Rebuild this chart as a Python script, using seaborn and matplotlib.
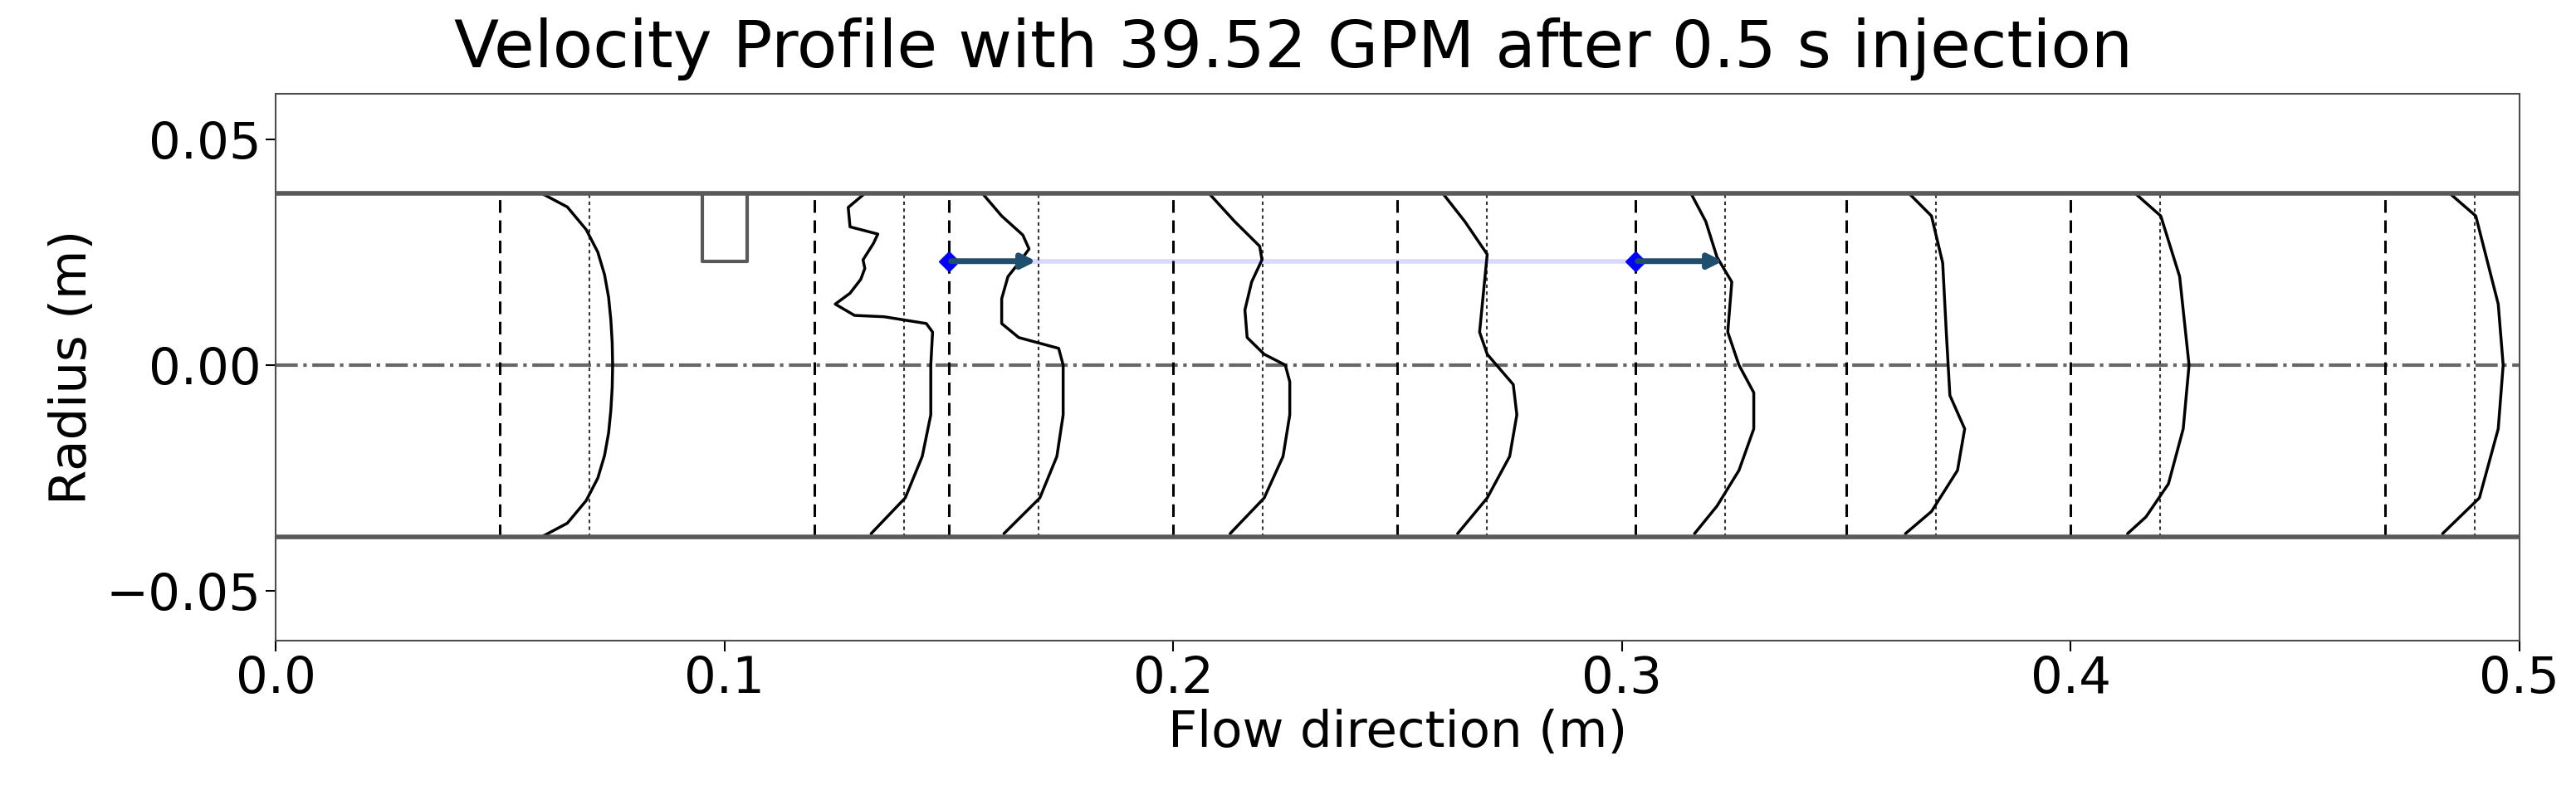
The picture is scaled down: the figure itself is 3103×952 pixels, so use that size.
import numpy as np
import pandas as pd
import matplotlib
matplotlib.use("Agg")
import matplotlib.pyplot as plt
import seaborn as sns

title = "Velocity Profile with 39.52 GPM after 0.5 s injection"
stations = [0.05, 0.12, 0.15, 0.20, 0.25, 0.303, 0.35, 0.40, 0.47]
ref_offset = 0.02
pipe_radius = 0.038
notch_x = [0.095, 0.105]
notch_depth = 0.023
tracer_y = 0.023
tracer_x = [0.15, 0.303]
tracer_len = 0.02

prof_r = [
    [0.038, 0.035, 0.03, 0.025, 0.02, 0.015, 0.01, 0.005, 0, -0.005, -0.01, -0.015, -0.02, -0.025, -0.03, -0.035, -0.038],
    [0.038, 0.0349, 0.0306, 0.029, 0.0269, 0.0233, 0.0214, 0.019, 0.0159, 0.0135, 0.011, 0.0107, 0.0092, 0.0073, 0, -0.011, -0.0202, -0.0294, -0.0373],
    [0.038, 0.033, 0.0288, 0.0257, 0.0226, 0.0196, 0.0147, 0.0092, 0.0061, 0.0037, 0, -0.011, -0.0202, -0.0294, -0.0373],
    [0.038, 0.0318, 0.0263, 0.0233, 0.0184, 0.0122, 0.0061, 0.0024, 0, -0.0037, -0.011, -0.0202, -0.0294, -0.0373],
    [0.038, 0.0318, 0.0245, 0.0165, 0.0073, 0.0024, -0.0043, -0.011, -0.0202, -0.0294, -0.0373],
    [0.038, 0.0318, 0.0239, 0.0184, 0.0073, 0, -0.0061, -0.0141, -0.0233, -0.0312, -0.0373],
    [0.038, 0.033, 0.0226, 0.0073, -0.0067, -0.0141, -0.0233, -0.0324, -0.0373],
    [0.038, 0.033, 0.0196, 0, -0.0141, -0.0263, -0.0336, -0.0373],
    [0.038, 0.033, 0.0135, 0, -0.0141, -0.0294, -0.0373],
]
prof_dx = [
    [0.0093, 0.0150, 0.0192, 0.0218, 0.0233, 0.0242, 0.0247, 0.0250, 0.0251, 0.0250, 0.0247, 0.0242, 0.0233, 0.0218, 0.0192, 0.0150, 0.0093],
    [0.0113, 0.0076, 0.008, 0.0142, 0.0132, 0.0109, 0.0113, 0.0104, 0.008, 0.0047, 0.009, 0.0156, 0.025, 0.0264, 0.026, 0.026, 0.0241, 0.0203, 0.0127],
    [0.0075, 0.0118, 0.0165, 0.0179, 0.0156, 0.0132, 0.0118, 0.0118, 0.0156, 0.0245, 0.0255, 0.0255, 0.0241, 0.0203, 0.0123],
    [0.008, 0.0137, 0.0193, 0.0198, 0.0175, 0.016, 0.0165, 0.0203, 0.025, 0.026, 0.026, 0.0245, 0.0203, 0.0127],
    [0.0101, 0.015, 0.02, 0.0192, 0.0183, 0.02, 0.0258, 0.0266, 0.025, 0.02, 0.0134],
    [0.0124, 0.0157, 0.0182, 0.0215, 0.0206, 0.0231, 0.0264, 0.0264, 0.0231, 0.0182, 0.0132],
    [0.014, 0.019, 0.0215, 0.0223, 0.0231, 0.0264, 0.0248, 0.019, 0.0132],
    [0.0144, 0.0201, 0.0243, 0.0264, 0.0251, 0.0218, 0.0168, 0.0127],
    [0.0145, 0.0203, 0.0253, 0.0264, 0.0253, 0.0211, 0.0129],
]

sns.set_style("white")
plt.rcParams['font.family'] = ['DejaVu Sans']
plt.rcParams['text.color'] = 'black'
plt.rcParams['axes.labelcolor'] = 'black'
plt.rcParams['xtick.color'] = 'black'
plt.rcParams['ytick.color'] = 'black'
fig = plt.figure(figsize=(31.03, 9.52), dpi=100)
ax = fig.add_axes([0.107, 0.189, 0.871, 0.692])

ax.axhline(pipe_radius, color='0.35', lw=4, zorder=3)
ax.axhline(-pipe_radius, color='0.35', lw=4, zorder=3)
ax.axhline(0, color='0.4', lw=3, ls='-.', zorder=1)
ax.plot([notch_x[0], notch_x[0], notch_x[1], notch_x[1]],
        [pipe_radius, notch_depth, notch_depth, pipe_radius], color='0.35', lw=3)

for s, rr, dd in zip(stations, prof_r, prof_dx):
    ax.plot([s, s], [-pipe_radius, pipe_radius], color='k', ls=(0, (5, 3)), lw=2.2)
    ax.plot([s + ref_offset] * 2, [-pipe_radius, pipe_radius], color='0.2', ls=(0, (2, 2)), lw=1.5)
    df = pd.DataFrame({'x': np.array(dd) + s, 'r': rr})
    sns.lineplot(data=df, x='x', y='r', sort=False, estimator=None, color='k', lw=2.5, ax=ax)

ax.plot(tracer_x, [tracer_y, tracer_y], color='blue', alpha=0.15, lw=4)
for tx in tracer_x:
    ax.annotate('', xy=(tx + tracer_len, tracer_y), xytext=(tx, tracer_y),
                arrowprops=dict(arrowstyle='-|>', color='#1f4e6e', lw=5, mutation_scale=25))
    ax.plot(tx, tracer_y, marker='D', color='blue', ms=12)

ax.set_xlim(0, 0.5)
ax.set_ylim(-0.061, 0.060)
ax.set_xticks([0.0, 0.1, 0.2, 0.3, 0.4, 0.5])
ax.set_xticklabels(['0.0', '0.1', '0.2', '0.3', '0.4', '0.5'])
ax.set_yticks([-0.05, 0.0, 0.05])
ax.set_yticklabels(['\u22120.05', '0.00', '0.05'])
ax.tick_params(labelsize=44, length=9, width=1.5, left=True, bottom=True)
ax.set_xlabel('Flow direction (m)', fontsize=44, labelpad=4)
ax.set_ylabel('Radius (m)', fontsize=44, labelpad=8)
fig.suptitle(title, fontsize=57, x=0.502, y=0.978, va='top')
for sp in ax.spines.values():
    sp.set_color('0.3')
    sp.set_linewidth(1.5)
fig.savefig('out.png', dpi=100)
